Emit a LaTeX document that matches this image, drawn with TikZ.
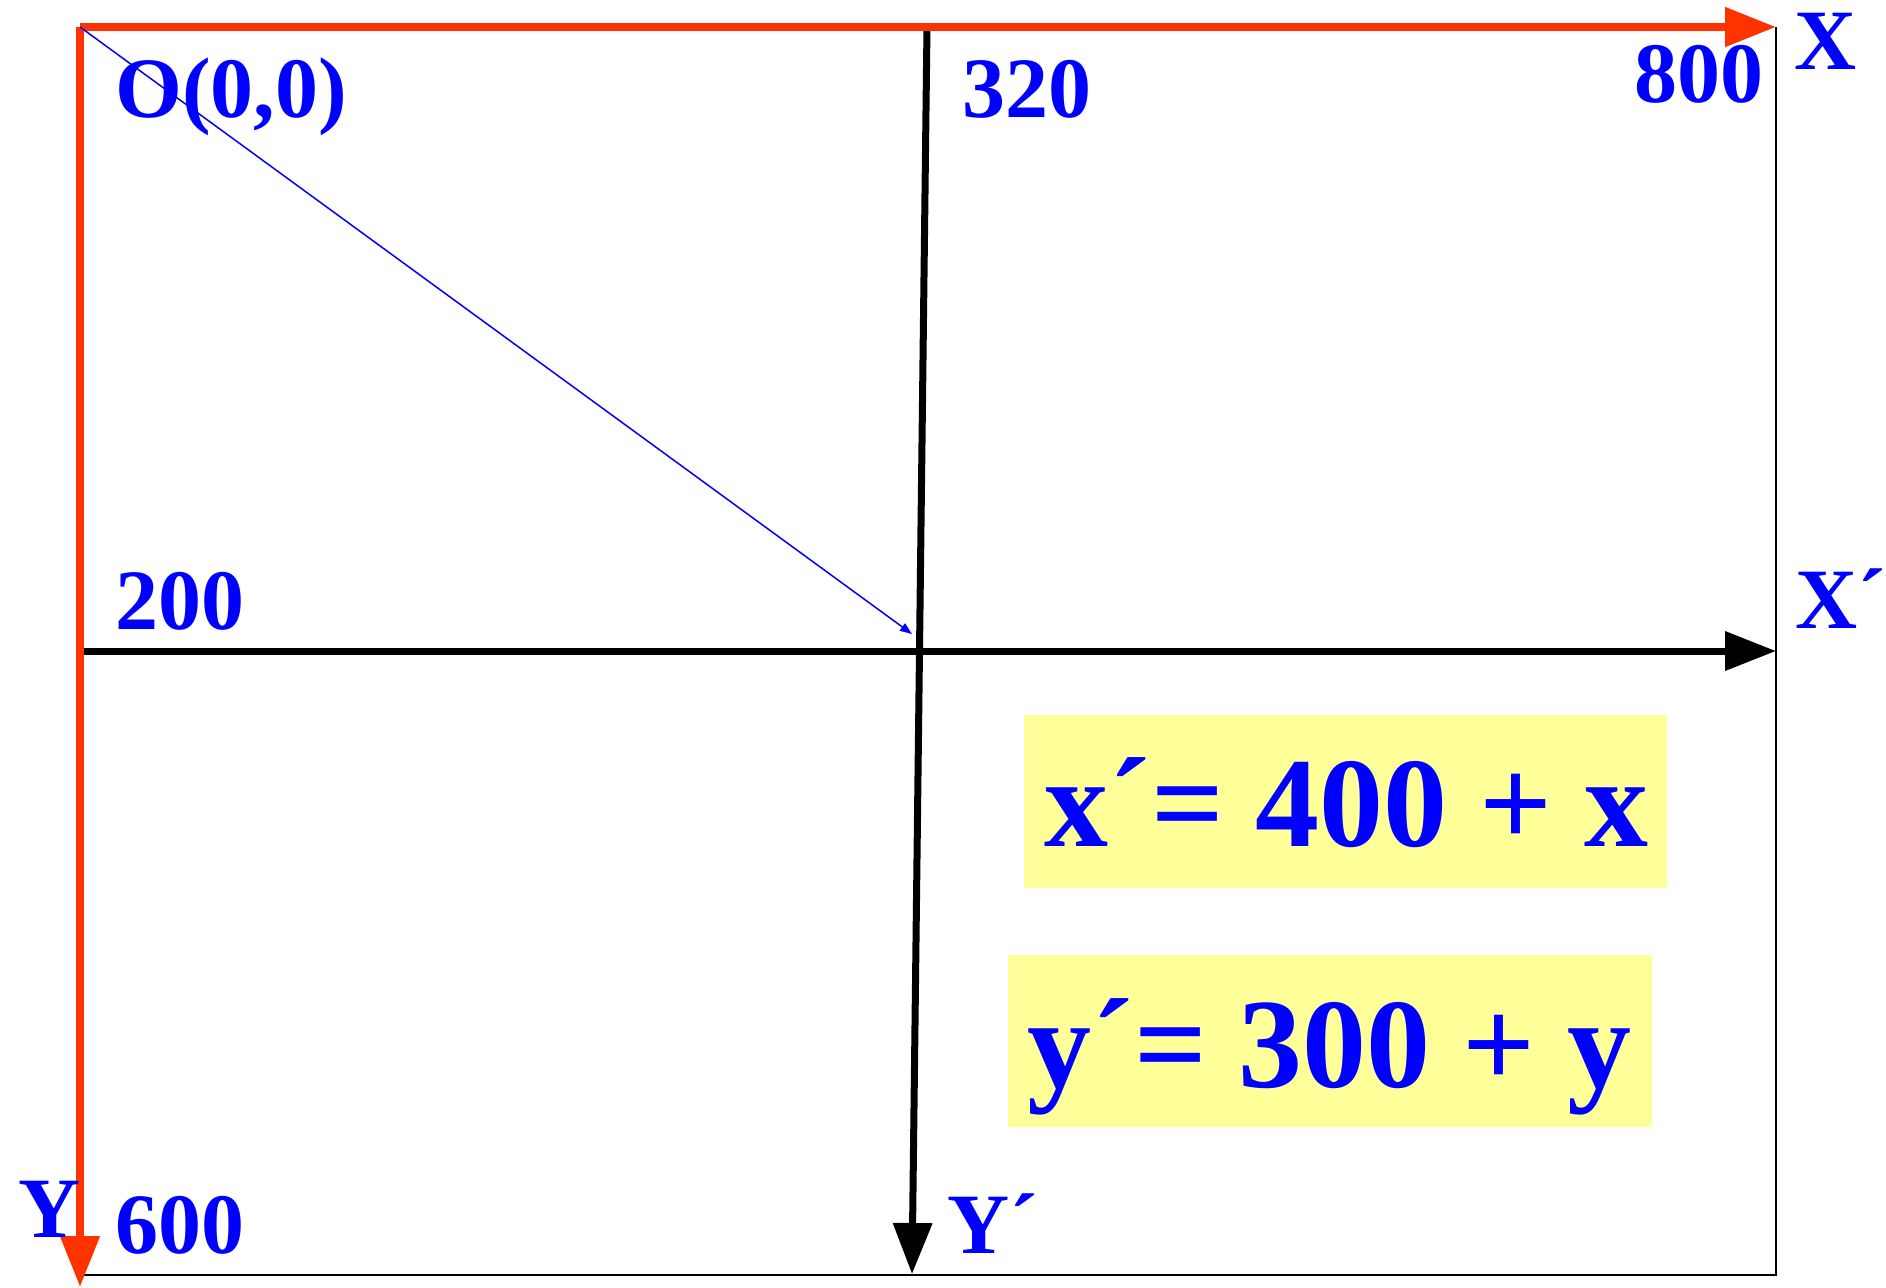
\documentclass[tikz,border=0pt]{standalone}
\usepackage{fontspec}
\setmainfont{Liberation Serif}
\usetikzlibrary{arrows.meta}
\definecolor{axred}{HTML}{FF3300}
\definecolor{lblue}{HTML}{0000FF}
\definecolor{eqyellow}{HTML}{FFFF99}
\begin{document}
\begin{tikzpicture}[x=0.5pt,y=-0.5pt,
  lbl/.style={text=lblue,font=\fontsize{43}{43}\selectfont\bfseries,inner sep=0pt,anchor=base west},
  eq/.style={text=lblue,font=\fontsize{64}{64}\selectfont\bfseries,inner sep=0pt,anchor=base west},
  redaxis/.style={draw=axred,line width=4pt,-{Triangle[length=25.5pt,width=19pt]}},
  blackaxis/.style={draw=black,line width=3.5pt,-{Triangle[length=25.5pt,width=19pt]}},
  frameline/.style={draw=black,line width=1pt},
  diag/.style={draw=lblue,line width=0.75pt,-{Triangle[length=6pt,width=4.5pt]}},
  eqbox/.style={fill=eqyellow}]
\useasboundingbox (0,0) rectangle (1886,1287);
% coordinates
\coordinate (O) at (80,27);
\coordinate (Xend) at (1776,27);
\coordinate (Yend) at (80,1287);
\coordinate (BR) at (1776,1275);
\coordinate (BL) at (80,1275);
\coordinate (Vtop) at (927,27);
\coordinate (Vbot) at (912,1274);
\coordinate (Hleft) at (80,651);
\coordinate (Hright) at (1776,651);
\coordinate (Dtip) at (912,634);
% yellow boxes
\fill[eqbox] (1024,715) rectangle (1667,888);
\fill[eqbox] (1008,955) rectangle (1652,1127);
% frame
\draw[frameline] (Xend) -- (BR) -- (BL);
% black axes
\draw[blackaxis] (Vtop) -- (Vbot);
\draw[blackaxis] (Hleft) -- (Hright);
% red axes
\draw[redaxis] (O) -- (Xend);
\draw[redaxis] (O) -- (Yend);
% diagonal
\draw[diag] (O) -- (Dtip);
% labels
\node[lbl] (lO) at (115,117) {O(0,0)};
\node[lbl] (l320) at (962,117) {320};
\node[lbl] (l800) at (1634,102) {800};
\node[lbl] (lX) at (1794,69) {X};
\node[lbl] (l200) at (115,629) {200};
\node[lbl] (lXp) at (1795,628) {X´};
\node[lbl] (lY) at (18,1237) {Y};
\node[lbl] (l600) at (115,1253) {600};
\node[lbl] (lYp) at (947,1253) {Y´};
\node[eq] (eqx) at (1044,846) {x´= 400 + x};
\node[eq] (eqy) at (1027,1087) {y´= 300 + y};
\end{tikzpicture}
\end{document}
